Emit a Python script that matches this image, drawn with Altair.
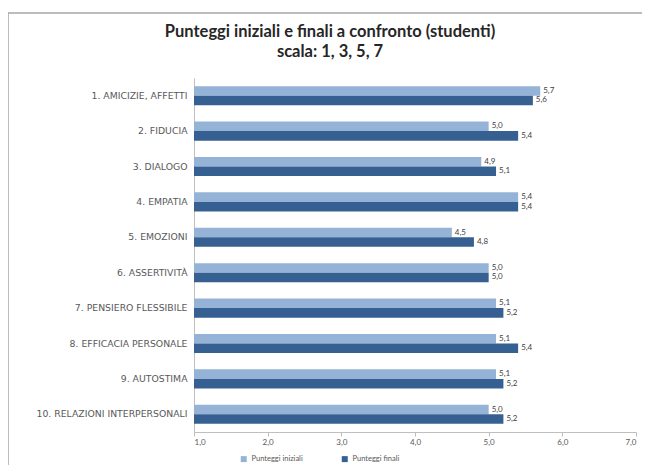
import altair as alt
import pandas as pd

categories = [
    "1. AMICIZIE, AFFETTI",
    "2. FIDUCIA",
    "3. DIALOGO",
    "4. EMPATIA",
    "5. EMOZIONI",
    "6. ASSERTIVITÀ",
    "7. PENSIERO FLESSIBILE",
    "8. EFFICACIA PERSONALE",
    "9. AUTOSTIMA",
    "10. RELAZIONI INTERPERSONALI",
]
series = ["Punteggi iniziali", "Punteggi finali"]
initial = [5.7, 5.0, 4.9, 5.4, 4.5, 5.0, 5.1, 5.1, 5.1, 5.0]
final = [5.6, 5.4, 5.1, 5.4, 4.8, 5.0, 5.2, 5.4, 5.2, 5.2]
x_ticks = [1, 2, 3, 4, 5, 6, 7]
colors = ["#95B3D7", "#366092"]
title_lines = ["Punteggi iniziali e finali a confronto (studenti)",
               "scala: 1, 3, 5, 7"]

rows = []
for c, a, b in zip(categories, initial, final):
    rows.append({"cat": c, "serie": series[0], "v": a})
    rows.append({"cat": c, "serie": series[1], "v": b})
df = pd.DataFrame(rows)

FONT = "Lato"
base = alt.Chart(df).transform_calculate(
    lab="replace(format(datum.v, '.1f'), '.', ',')"
)

y_enc = alt.Y(
    "cat:N",
    sort=categories,
    title=None,
    scale=alt.Scale(paddingInner=0.46, paddingOuter=0.23),
    axis=alt.Axis(
        labelFont="DejaVu Sans", labelFontSize=9.3, labelColor="#595959",
        ticks=False, domainColor="#BFBFBF", labelPadding=7,
        labelLimit=200,
    ),
)
x_enc = alt.X(
    "v:Q",
    title=None,
    scale=alt.Scale(domain=[1, 7], nice=False, zero=False),
    axis=alt.Axis(
        values=x_ticks, grid=False, labelFont=FONT, labelFontSize=8,
        labelColor="#595959", domainColor="#BFBFBF", tickColor="#BFBFBF",
        tickSize=4, labelPadding=2,
        labelExpr="replace(format(datum.value, '.1f'), '.', ',')",
    ),
)
yoff = alt.YOffset("serie:N", sort=series, scale=alt.Scale(paddingInner=0))

bars = base.mark_bar().encode(
    y=y_enc,
    x=x_enc,
    x2=alt.datum(1),
    yOffset=yoff,
    color=alt.Color(
        "serie:N", sort=series,
        scale=alt.Scale(domain=series, range=colors),
        legend=alt.Legend(
            title=None, orient="none", direction="horizontal",
            legendX=46, legendY=377, labelFont=FONT, labelFontSize=7.5,
            labelColor="#595959", symbolType="square", symbolSize=36,
            symbolStrokeWidth=0, columnPadding=38,
        ),
    ),
)

texts = base.mark_text(
    align="left", baseline="middle", dx=3, font=FONT, fontSize=8,
    color="#404040",
).encode(
    y=alt.Y("cat:N", sort=categories),
    x=alt.X("v:Q"),
    yOffset=yoff,
    text="lab:N",
)

frame_df = pd.DataFrame({"k": [0]})
frame_top = alt.Chart(frame_df).mark_rule(
    stroke="#A6A6A6", strokeWidth=1.5
).encode(x=alt.value(-186), x2=alt.value(460), y=alt.value(-65))
frame_left = alt.Chart(frame_df).mark_rule(
    stroke="#A6A6A6", strokeWidth=1.5
).encode(x=alt.value(-186), y=alt.value(-65), y2=alt.value(400))


def title_line(txt, ypos):
    return alt.Chart(pd.DataFrame({"t": [txt]})).mark_text(
        font=FONT, fontSize=16.5, fontWeight="bold", color="#262626",
        align="center", baseline="middle",
    ).encode(x=alt.value(136), y=alt.value(ypos), text="t:N")


t1 = title_line(title_lines[0], -46)
t2 = title_line(title_lines[1], -26)

chart = alt.layer(frame_top, frame_left, bars, texts, t1, t2).properties(
    width=442,
    height=354,
    autosize=alt.AutoSizeParams(type="none"),
    padding={"left": 186, "top": 70, "right": 6, "bottom": 33},
).configure_view(stroke=None)

chart.save("out.html", embed_options={"renderer": "svg", "actions": False})
